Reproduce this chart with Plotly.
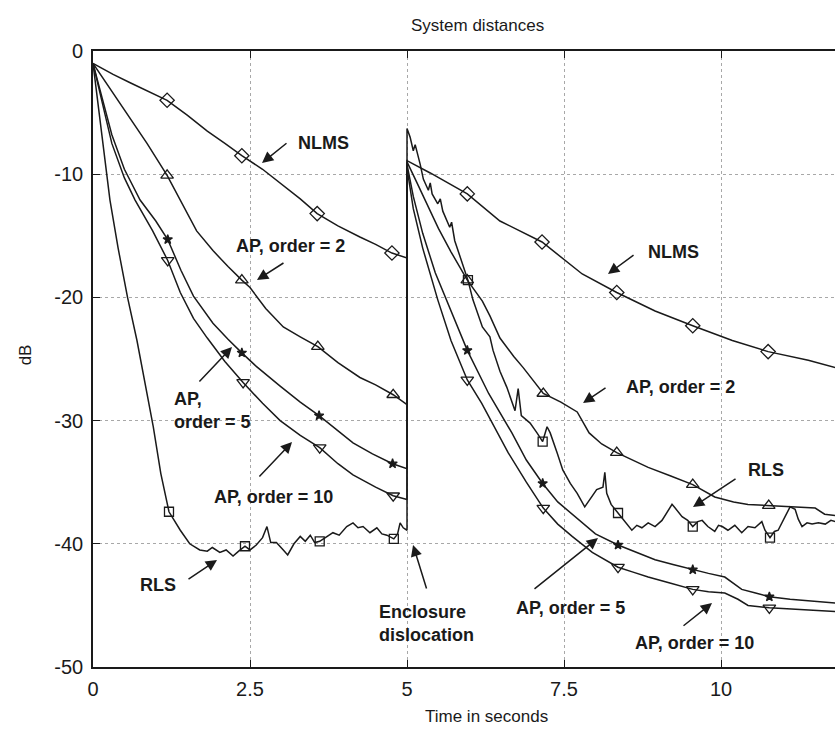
import plotly.graph_objects as go

# ---------------- data ----------------
X_TICKS = [0, 2.5, 5, 7.5, 10]
X_TICK_LABELS = ["0", "2.5", "5", "7.5", "10"]
Y_TICKS = [0, -10, -20, -30, -40, -50]
Y_TICK_LABELS = ["0", "-10", "-20", "-30", "-40", "-50"]

nlms_x = [0, 0.32, 0.6, 0.86, 1.18, 1.5, 1.82, 2.1, 2.37, 2.7, 2.98, 3.3, 3.57, 3.9, 4.25, 4.5, 4.76, 5.0,
          5.0, 5.37, 5.96, 6.48, 7.15, 7.79, 8.34, 8.95, 9.55, 10.18, 10.75, 11.39, 11.82]
nlms_y = [-1.0, -1.9, -2.6, -3.2, -4.0, -5.2, -6.5, -7.5, -8.5, -9.6, -10.7, -12.0, -13.2, -14.2, -15.1, -15.7, -16.4, -16.8,
          -8.9, -9.9, -11.6, -13.8, -15.5, -18.1, -19.6, -21.1, -22.3, -23.5, -24.4, -25.1, -25.7]

ap2_x = [0, 0.2, 0.48, 0.86, 1.18, 1.39, 1.65, 1.91, 2.15, 2.37, 2.5, 2.75, 3.03, 3.3, 3.58, 3.9, 4.25, 4.5, 4.78, 5.0,
         5.0, 5.15, 5.3, 5.5, 5.7, 5.96, 6.2, 6.32, 6.48, 6.7, 6.85, 7.0, 7.17, 7.45, 7.71, 7.9, 8.1, 8.34, 8.6, 8.84,
         9.2, 9.55, 9.9, 10.2, 10.43, 10.76, 11.1, 11.5, 11.65, 11.82]
ap2_y = [-1.0, -2.5, -4.6, -7.5, -10.1, -12.1, -14.6, -16.2, -17.5, -18.6, -19.2, -20.9, -22.4, -23.2, -24.0, -25.3, -26.5, -27.1, -27.9, -28.7,
         -9.0, -10.6, -12.2, -14.4, -16.3, -18.6, -20.3, -21.5, -23.3, -24.8, -25.7, -26.7, -27.8, -28.5, -29.3, -31.0, -31.9, -32.6, -33.2, -33.8,
         -34.5, -35.2, -36.2, -36.6, -36.8, -36.9, -37.0, -37.1, -37.6, -37.7]

ap5_x = [0, 0.15, 0.3, 0.5, 0.75, 1.0, 1.19, 1.4, 1.6, 1.91, 2.15, 2.37, 2.6, 2.98, 3.3, 3.6, 3.9, 4.14, 4.45, 4.77, 5.0,
         5.0, 5.1, 5.25, 5.45, 5.65, 5.96, 6.3, 6.67, 6.9, 7.16, 7.4, 7.68, 8.0, 8.36, 8.6, 8.95, 9.25, 9.55, 9.8,
         10.06, 10.2, 10.33, 10.55, 10.77, 11.1, 11.5, 11.82]
ap5_y = [-1.0, -3.8, -6.8, -9.6, -12.1, -13.8, -15.3, -17.8, -19.9, -22.1, -23.4, -24.5, -25.6, -27.2, -28.5, -29.6, -30.8, -31.8, -32.7, -33.5, -33.9,
         -9.2, -11.8, -14.8, -18.0, -20.5, -24.3, -27.8, -31.0, -33.2, -35.1, -36.6, -37.8, -39.2, -40.1, -40.6, -41.3, -41.7, -42.1, -42.4,
         -42.7, -43.2, -43.7, -44.0, -44.3, -44.5, -44.7, -44.8]

ap10_x = [0, 0.15, 0.3, 0.5, 0.67, 0.95, 1.19, 1.39, 1.6, 1.82, 2.1, 2.39, 2.7, 2.98, 3.3, 3.61, 3.9, 4.14, 4.5, 4.78, 5.0,
          5.0, 5.1, 5.25, 5.49, 5.7, 5.96, 6.19, 6.4, 6.61, 6.9, 7.17, 7.4, 7.63, 7.95, 8.36, 8.6, 8.84, 9.2, 9.55, 9.8,
          10.06, 10.27, 10.43, 10.77, 11.2, 11.82]
ap10_y = [-1.0, -4.2, -7.5, -10.3, -12.1, -14.6, -17.0, -19.6, -21.7, -23.3, -25.2, -26.9, -28.6, -30.0, -31.2, -32.2, -33.5, -34.4, -35.4, -36.1, -36.4,
          -9.5, -12.8, -16.0, -20.2, -23.5, -26.7, -28.6, -30.6, -32.6, -35.0, -37.1, -38.4, -39.4, -40.7, -41.9, -42.3, -42.7, -43.2, -43.7, -43.9,
          -44.0, -44.5, -45.0, -45.2, -45.3, -45.5]

rls_x = [0, 0.1, 0.2, 0.27, 0.4, 0.55, 0.7, 0.8, 0.9, 0.96, 1.08, 1.21, 1.39, 1.54, 1.7, 1.82, 1.9, 2.02, 2.12, 2.23,
         2.32, 2.42, 2.5, 2.6, 2.7, 2.77, 2.83, 2.92, 3.03, 3.1, 3.2, 3.3, 3.38, 3.46, 3.53, 3.61, 3.7, 3.82, 3.92,
         4.04, 4.14, 4.22, 4.3, 4.41, 4.52, 4.6, 4.68, 4.79, 4.85, 4.89, 4.94, 5.0,
         5.0, 5.05, 5.1, 5.13, 5.21, 5.26, 5.34, 5.37, 5.4, 5.49, 5.53, 5.57, 5.68, 5.71, 5.76, 5.87, 5.97, 6.05,
         6.2, 6.32, 6.37, 6.48, 6.59, 6.72, 6.77, 6.82, 6.96, 7.07, 7.16, 7.23, 7.28, 7.39, 7.48, 7.6, 7.71, 7.83,
         7.91, 8.02, 8.12, 8.15, 8.18, 8.25, 8.36, 8.45, 8.58, 8.66, 8.74, 8.84, 8.95, 9.06, 9.14, 9.22, 9.27, 9.38,
         9.47, 9.55, 9.63, 9.7, 9.79, 9.9, 9.96, 10.02, 10.11, 10.22, 10.33, 10.43, 10.54, 10.65, 10.7, 10.78, 10.85,
         10.91, 11.02, 11.1, 11.18, 11.23, 11.29, 11.37, 11.45, 11.55, 11.66, 11.75, 11.82]
rls_y = [-1.0, -5.0, -9.2, -12.1, -16.0, -20.0, -23.5, -26.2, -29.0, -30.5, -34.3, -37.4, -38.9, -40.0, -40.5, -40.6, -40.3, -40.7, -40.5, -41.0,
         -40.6, -40.2, -40.5, -40.1, -39.5, -38.6, -39.9, -39.9, -40.5, -40.9, -40.0, -39.4, -39.8, -39.3, -39.9, -39.8, -39.5, -39.1, -39.3,
         -38.6, -38.3, -38.7, -38.6, -39.1, -38.7, -39.2, -39.3, -39.6, -39.2, -38.3, -38.7, -38.9,
         -6.3, -7.0, -8.1, -7.6, -9.2, -10.4, -11.3, -10.7, -11.6, -12.4, -12.0, -13.0, -14.3, -13.9, -15.4, -17.0, -18.6, -20.2,
         -22.4, -23.2, -24.3, -26.0, -27.3, -29.2, -27.4, -29.6, -30.2, -31.0, -31.7, -30.5, -31.0, -32.6, -34.0, -35.1, -35.9, -37.0,
         -36.4, -35.6, -35.4, -34.2, -35.9, -36.8, -37.5, -38.1, -38.9, -38.5, -38.7, -38.3, -38.6, -38.1, -37.5, -36.8, -37.1, -37.8,
         -38.1, -38.6, -38.2, -38.1, -38.6, -39.0, -38.5, -38.6, -38.9, -38.5, -39.1, -38.6, -38.7, -38.2, -38.9, -39.5, -39.0,
         -38.9, -37.8, -37.0, -37.2, -38.0, -38.6, -38.3, -38.4, -38.3, -38.4, -38.1, -38.2]

# marker positions for each curve
nlms_mx = [1.18, 2.37, 3.57, 4.76, 5.96, 7.15, 8.34, 9.55, 10.75]
nlms_my = [-4.0, -8.5, -13.2, -16.4, -11.6, -15.5, -19.6, -22.3, -24.4]
ap2_mx = [1.18, 2.37, 3.58, 4.78, 5.96, 7.17, 8.34, 9.55, 10.76]
ap2_my = [-10.1, -18.6, -24.0, -27.9, -18.6, -27.8, -32.6, -35.2, -36.9]
ap5_mx = [1.19, 2.37, 3.6, 4.77, 5.96, 7.16, 8.36, 9.55, 10.77]
ap5_my = [-15.3, -24.5, -29.6, -33.5, -24.3, -35.1, -40.1, -42.1, -44.3]
ap10_mx = [1.19, 2.39, 3.61, 4.78, 5.96, 7.17, 8.36, 9.55, 10.77]
ap10_my = [-17.0, -26.9, -32.2, -36.1, -26.7, -37.1, -41.9, -43.7, -45.2]
rls_mx = [1.21, 2.42, 3.61, 4.79, 5.97, 7.16, 8.36, 9.55, 10.78]
rls_my = [-37.4, -40.2, -39.8, -39.6, -18.6, -31.7, -37.5, -38.6, -39.5]

# ---------------- figure ----------------
FONT = "Liberation Sans, Arial, Helvetica, sans-serif"
INK = "#1a1a1a"
fig = go.Figure()

series = [
    (nlms_x, nlms_y, nlms_mx, nlms_my, "diamond-open", 11),
    (ap2_x, ap2_y, ap2_mx, ap2_my, "triangle-up-open", 11),
    (ap5_x, ap5_y, ap5_mx, ap5_my, "star", 7),
    (ap10_x, ap10_y, ap10_mx, ap10_my, "triangle-down-open", 11),
    (rls_x, rls_y, rls_mx, rls_my, "square-open", 9),
]
for lx, ly, mx, my, sym, sz in series:
    fig.add_trace(go.Scatter(x=lx, y=ly, mode="lines", line=dict(color=INK, width=1.5),
                             showlegend=False, hoverinfo="skip"))
    fig.add_trace(go.Scatter(x=mx, y=my, mode="markers",
                             marker=dict(symbol=sym, size=sz, color=INK,
                                         line=dict(color=INK, width=1.3)),
                             showlegend=False, hoverinfo="skip"))

labels = [
    # text, x, y, xanchor
    ("<b>NLMS</b>", 3.67, -7.47, "center"),
    ("<b>AP, order = 2</b>", 3.145, -15.83, "center"),
    ("<b>AP,<br>order = 5</b>", 1.258, -29.14, "left"),
    ("<b>AP, order = 10</b>", 2.874, -36.2, "center"),
    ("<b>RLS</b>", 1.035, -43.34, "center"),
    ("<b>Enclosure<br>dislocation</b>", 4.52, -46.47, "left"),
    ("<b>NLMS</b>", 9.244, -16.31, "center"),
    ("<b>AP, order = 2</b>", 9.347, -27.27, "center"),
    ("<b>RLS</b>", 10.724, -34.01, "center"),
    ("<b>AP, order = 5</b>", 7.604, -45.21, "center"),
    ("<b>AP, order = 10</b>", 9.57, -48.05, "center"),
]
for t, x, y, xa in labels:
    fig.add_annotation(x=x, y=y, xref="x", yref="y", text=t, showarrow=False,
                       xanchor=xa, yanchor="middle", align="left",
                       font=dict(family=FONT, size=18, color=INK))

arrows = [
    # tail x, tail y, tip x, tip y
    (3.105, -7.39, 2.691, -9.09),
    (3.057, -17.13, 2.611, -18.59),
    (1.672, -26.95, 2.213, -24.03),
    (2.627, -34.66, 3.169, -31.74),
    (1.497, -42.94, 1.975, -41.31),
    (5.318, -43.75, 5.096, -40.1),
    (8.631, -16.48, 8.2, -18.1),
    (8.185, -27.27, 7.803, -28.57),
    (10.255, -34.66, 9.554, -37.01),
    (7.006, -43.75, 8.041, -39.53),
    (9.379, -46.75, 9.857, -44.81),
]
for ax_, ay_, x, y in arrows:
    fig.add_annotation(x=x, y=y, xref="x", yref="y", ax=ax_, ay=ay_, axref="x", ayref="y",
                       text="", showarrow=True, arrowhead=2, arrowsize=1.5, arrowwidth=1.5,
                       arrowcolor=INK, standoff=0, startstandoff=0)

# titles
fig.add_annotation(x=6.13, y=1.042, xref="x", yref="paper", text="System distances", showarrow=False,
                   xanchor="center", yanchor="middle", font=dict(family=FONT, size=17, color=INK))
fig.add_annotation(x=0.5297, y=-0.081, xref="paper", yref="paper", text="Time in seconds", showarrow=False,
                   xanchor="center", yanchor="middle", font=dict(family=FONT, size=17, color=INK))
fig.add_annotation(x=-0.0916, y=0.506, xref="paper", yref="paper", text="dB", showarrow=False, textangle=-90,
                   xanchor="center", yanchor="middle", font=dict(family=FONT, size=17, color=INK))

axis_common = dict(showline=True, linecolor=INK, linewidth=1.6, ticks="inside", ticklen=7,
                   tickcolor=INK, tickwidth=1.3, showgrid=True, gridcolor="#a8a8a8", griddash="dot",
                   gridwidth=1.2, zeroline=False, tickfont=dict(family=FONT, size=20, color=INK))

fig.update_xaxes(range=[0, 11.815], tickvals=X_TICKS, ticktext=X_TICK_LABELS, mirror="ticks",
                 ticklabelstandoff=3, **axis_common)
fig.update_yaxes(range=[-50, 0], tickvals=Y_TICKS, ticktext=Y_TICK_LABELS, mirror=False,
                 ticklabelstandoff=4, **axis_common)

fig.update_layout(width=835, height=729, margin=dict(l=93, r=0, t=51, b=62),
                  paper_bgcolor="white", plot_bgcolor="white", showlegend=False)

fig.write_html("out.html")
